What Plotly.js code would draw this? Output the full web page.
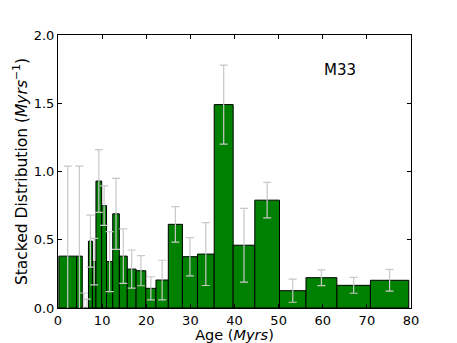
<!DOCTYPE html>
<html>
<head>
<meta charset="utf-8">
<script src="https://cdn.plot.ly/plotly-3.0.1.min.js"></script>
<style>html,body{margin:0;padding:0;background:#fff;}#chart{width:457px;height:343px;}</style>
</head>
<body>
<div id="chart"></div>
<script>
// Bin edges (Myrs) and stacked distribution values
const binEdges = [0.2, 4.2, 5.5, 6.2, 6.9, 7.8, 8.6, 9.9, 11.0, 12.4, 13.9, 15.7, 17.7, 19.9, 22.2, 25.0, 28.2, 31.6, 35.4, 39.7, 44.6, 50.2, 56.2, 63.2, 70.8, 79.5];
const values   = [0.38, 0.38, 0.0, 0.0, 0.49, 0.34, 0.93, 0.75, 0.34, 0.69, 0.38, 0.285, 0.273, 0.144, 0.205, 0.613, 0.376, 0.395, 1.49, 0.46, 0.79, 0.127, 0.222, 0.166, 0.203];
const errors   = [0.66, 0.66, 0.11, 0.065, 0.19, 0.17, 0.23, 0.145, 0.22, 0.26, 0.2, 0.14, 0.11, 0.085, 0.145, 0.13, 0.14, 0.23, 0.29, 0.27, 0.13, 0.085, 0.058, 0.058, 0.08];
const xTicks = [0, 10, 20, 30, 40, 50, 60, 70, 80];
const yTicks = [0.0, 0.5, 1.0, 1.5, 2.0];
const label = "M33";

const centers = [], widths = [];
for (let i = 0; i < values.length; i++) {
  centers.push((binEdges[i] + binEdges[i + 1]) / 2);
  widths.push(binEdges[i + 1] - binEdges[i]);
}

const trace = {
  type: 'bar',
  x: centers,
  y: values,
  width: widths,
  marker: {color: '#008000', line: {color: '#000000', width: 1}},
  error_y: {type: 'data', array: errors, visible: true, color: '#c8c8c8', thickness: 1.2, width: 4},
  hoverinfo: 'none'
};

const font = {family: 'DejaVu Sans, sans-serif', size: 13, color: '#000'};
const layout = {
  width: 457, height: 343,
  margin: {l: 58, r: 46, t: 35, b: 35, pad: 0},
  paper_bgcolor: '#fff', plot_bgcolor: '#fff',
  showlegend: false,
  bargap: 0,
  font: font,
  xaxis: {
    range: [0, 80], tickvals: xTicks, ticktext: xTicks.map(String),
    ticks: 'inside', ticklen: 4, tickcolor: '#000', tickwidth: 1,
    showline: true, linecolor: '#000', linewidth: 1, mirror: 'ticks',
    showgrid: false, zeroline: false,
    tickfont: {family: 'DejaVu Sans, sans-serif', size: 13},
    title: {text: 'Age (<i>Myrs</i>)', font: {family: 'DejaVu Sans, sans-serif', size: 14.5}, standoff: 6}
  },
  yaxis: {
    range: [0, 2.0], tickvals: yTicks, ticktext: yTicks.map(v => v.toFixed(1)),
    ticks: 'inside', ticklen: 4, tickcolor: '#000', tickwidth: 1,
    showline: true, linecolor: '#000', linewidth: 1, mirror: 'ticks',
    showgrid: false, zeroline: false,
    tickfont: {family: 'DejaVu Sans, sans-serif', size: 13},
    title: {text: 'Stacked Distribution (<i>Myrs</i><sup>−1</sup>)', font: {family: 'DejaVu Sans, sans-serif', size: 15.5}, standoff: 2}
  },
  annotations: [{
    x: 64, y: 1.74, xref: 'x', yref: 'y', text: label, showarrow: false,
    font: {family: 'DejaVu Sans, sans-serif', size: 15, color: '#000'}
  }]
};

Plotly.newPlot('chart', [trace], layout, {staticPlot: true, displayModeBar: false});
</script>
</body>
</html>
